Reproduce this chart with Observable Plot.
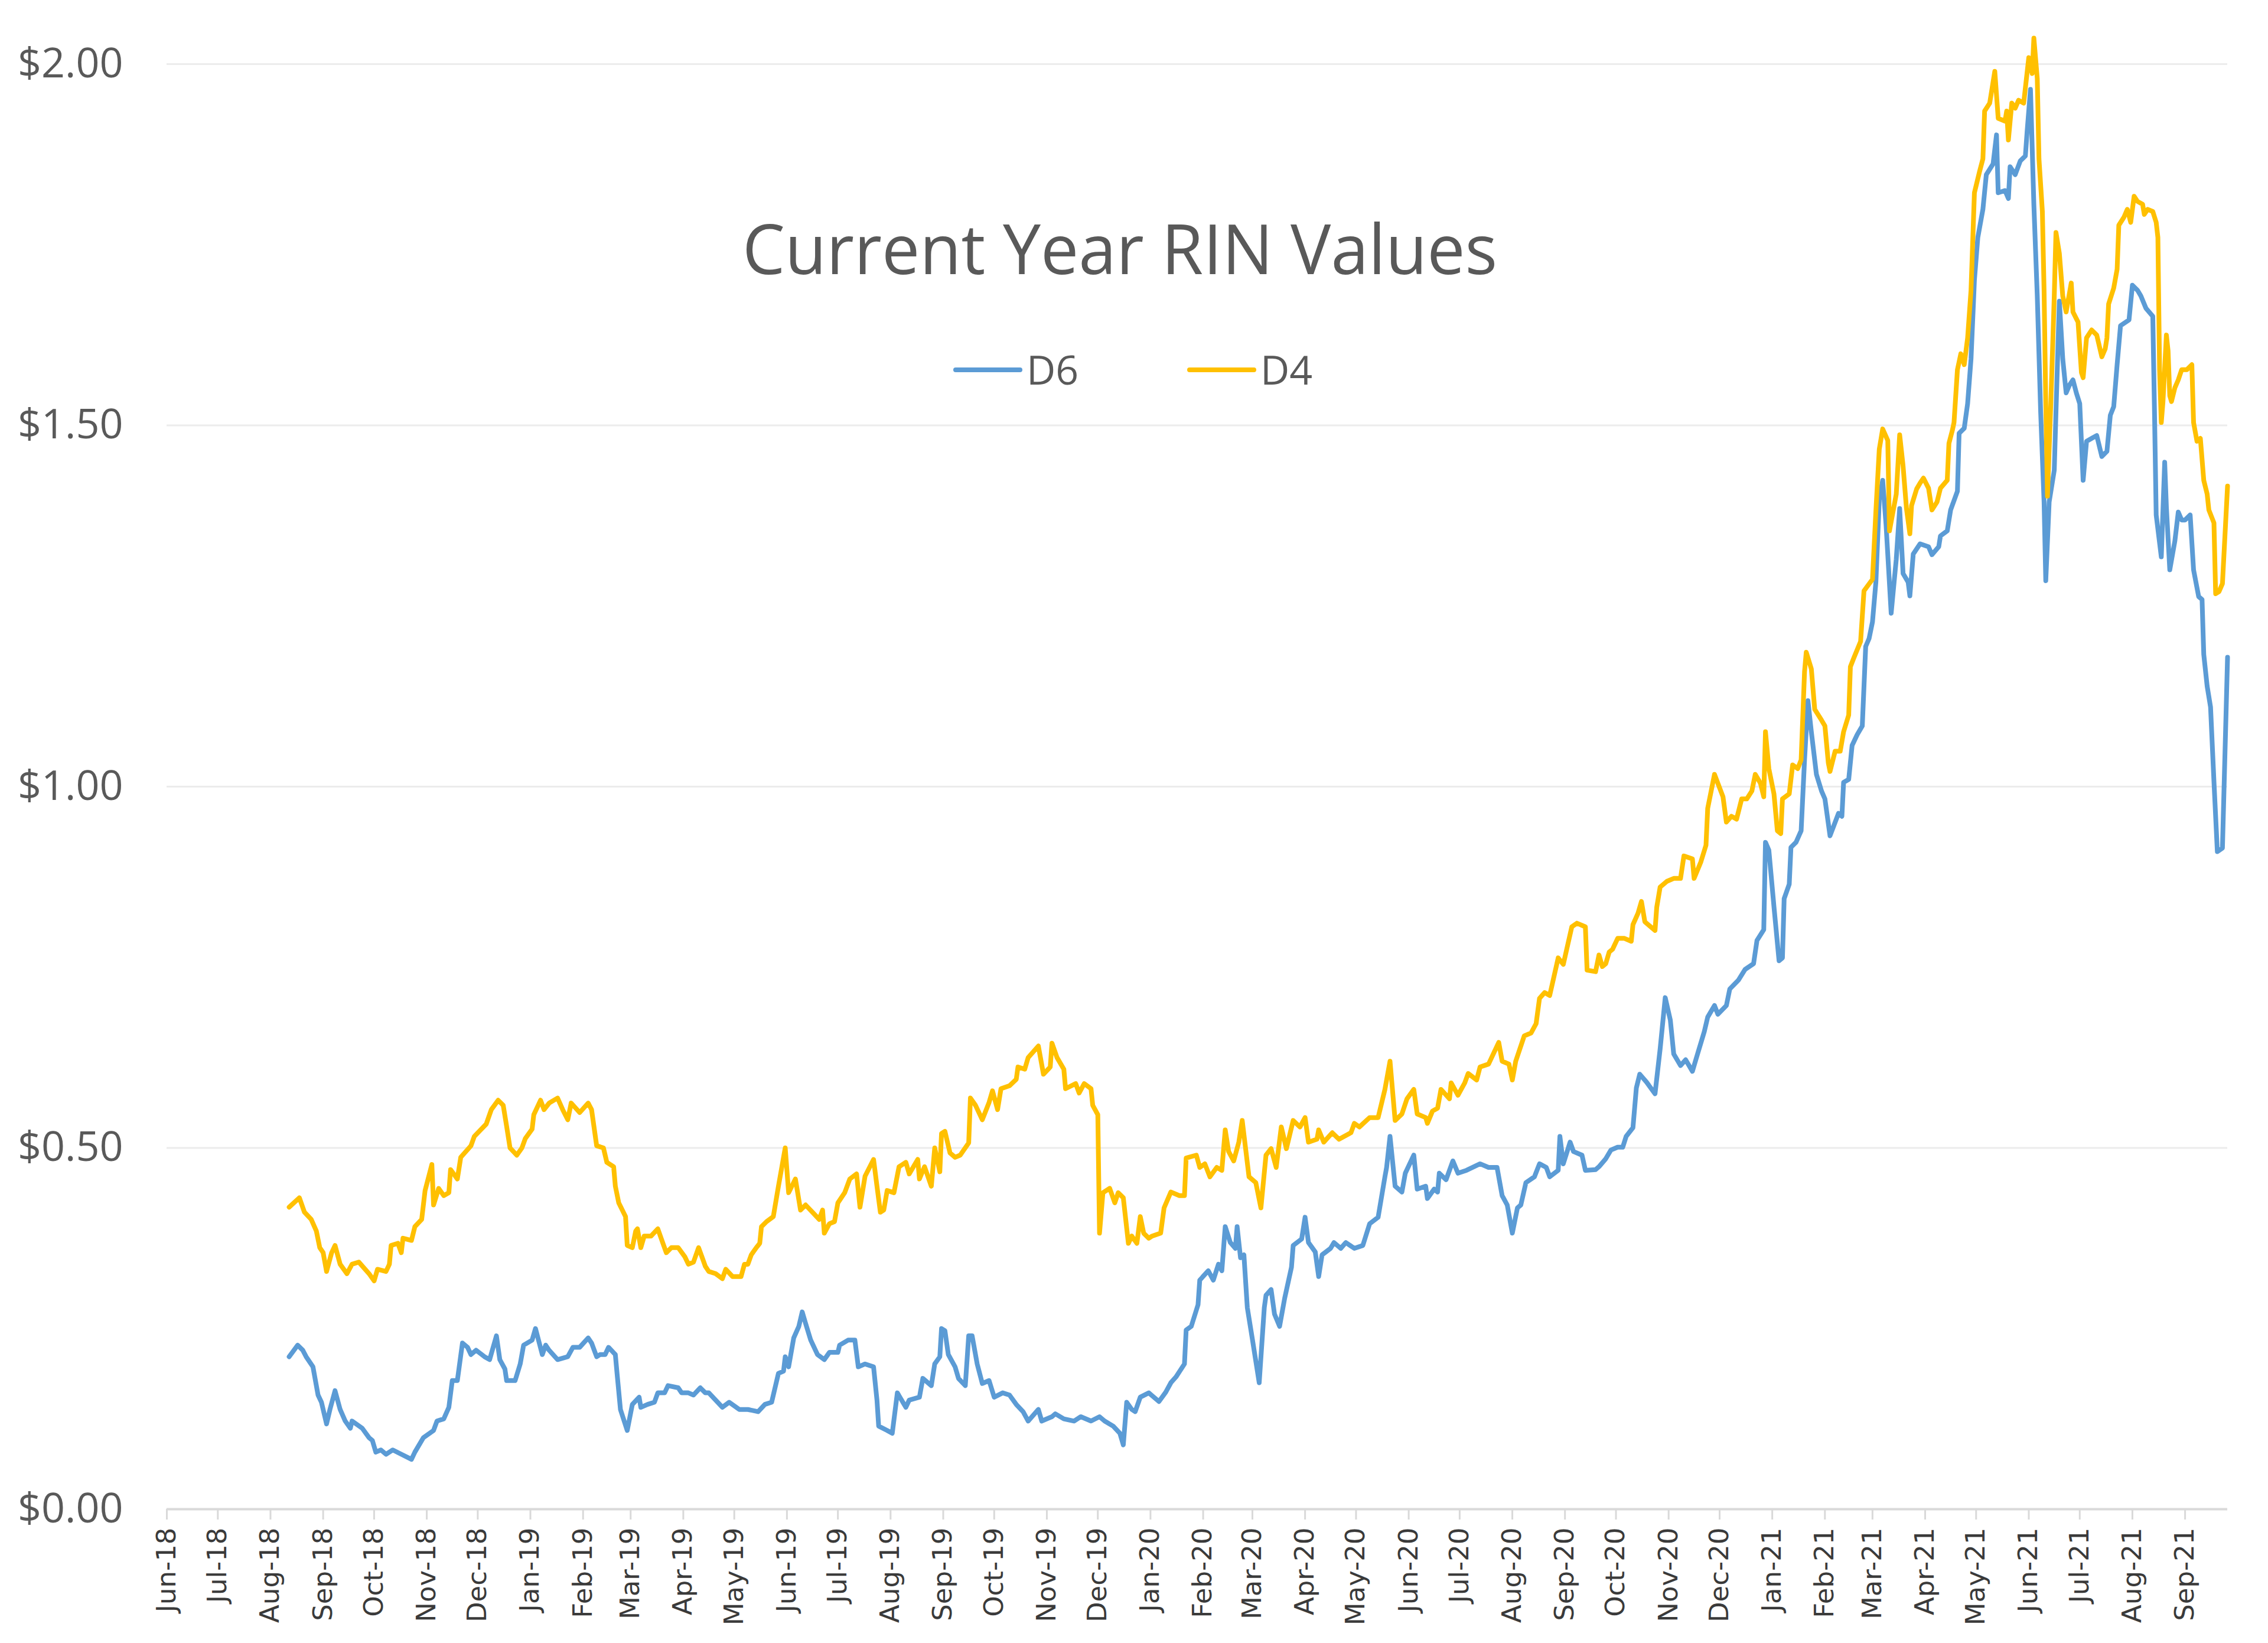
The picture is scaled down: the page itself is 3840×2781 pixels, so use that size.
<!DOCTYPE html>
<html>
<head>
<meta charset="utf-8">
<script src="https://cdn.jsdelivr.net/npm/d3@7"></script>
<script src="https://cdn.jsdelivr.net/npm/@observablehq/plot@0.6"></script>
<style>
  html, body { margin: 0; padding: 0; background: #ffffff; }
  #chart { width: 3840px; height: 2781px; }
</style>
</head>
<body>
<div id="chart"></div>
<script>
const chartTitle = "Current Year RIN Values";
const seriesNames = ["D6", "D4"];
const seriesColors = ["#5B9BD5", "#FFC000"];
const yTicks = [0, 0.5, 1, 1.5, 2];
const xDomain = ["2018-06-01", "2021-09-26"];

const d6Dates = ["2018-08-12","2018-08-17","2018-08-20","2018-08-22","2018-08-26","2018-08-29","2018-08-31","2018-09-03","2018-09-05","2018-09-08","2018-09-11","2018-09-14","2018-09-17","2018-09-18","2018-09-24","2018-09-28","2018-09-30","2018-10-02","2018-10-05","2018-10-08","2018-10-12","2018-10-17","2018-10-23","2018-10-25","2018-10-30","2018-11-05","2018-11-07","2018-11-11","2018-11-14","2018-11-16","2018-11-19","2018-11-22","2018-11-25","2018-11-27","2018-11-30","2018-12-05","2018-12-08","2018-12-12","2018-12-14","2018-12-17","2018-12-18","2018-12-23","2018-12-26","2018-12-28","2019-01-02","2019-01-04","2019-01-08","2019-01-10","2019-01-12","2019-01-17","2019-01-23","2019-01-26","2019-01-30","2019-02-04","2019-02-06","2019-02-09","2019-02-11","2019-02-14","2019-02-16","2019-02-20","2019-02-21","2019-02-23","2019-02-27","2019-03-02","2019-03-06","2019-03-07","2019-03-11","2019-03-15","2019-03-17","2019-03-21","2019-03-23","2019-03-29","2019-03-31","2019-04-04","2019-04-07","2019-04-11","2019-04-14","2019-04-16","2019-04-20","2019-04-24","2019-04-28","2019-05-04","2019-05-09","2019-05-15","2019-05-19","2019-05-23","2019-05-27","2019-05-30","2019-05-31","2019-06-02","2019-06-05","2019-06-08","2019-06-10","2019-06-12","2019-06-15","2019-06-19","2019-06-23","2019-06-26","2019-07-01","2019-07-02","2019-07-07","2019-07-11","2019-07-13","2019-07-17","2019-07-22","2019-07-24","2019-07-25","2019-07-30","2019-08-02","2019-08-05","2019-08-10","2019-08-12","2019-08-18","2019-08-20","2019-08-25","2019-08-27","2019-08-30","2019-08-31","2019-09-02","2019-09-04","2019-09-08","2019-09-10","2019-09-14","2019-09-16","2019-09-18","2019-09-21","2019-09-24","2019-09-28","2019-10-01","2019-10-06","2019-10-10","2019-10-14","2019-10-18","2019-10-21","2019-10-27","2019-10-29","2019-11-04","2019-11-06","2019-11-11","2019-11-17","2019-11-21","2019-11-27","2019-12-02","2019-12-05","2019-12-10","2019-12-14","2019-12-16","2019-12-18","2019-12-21","2019-12-23","2019-12-26","2019-12-31","2020-01-02","2020-01-06","2020-01-10","2020-01-13","2020-01-16","2020-01-21","2020-01-22","2020-01-25","2020-01-29","2020-01-30","2020-02-04","2020-02-07","2020-02-10","2020-02-12","2020-02-14","2020-02-17","2020-02-20","2020-02-21","2020-02-23","2020-02-25","2020-02-27","2020-03-01","2020-03-05","2020-03-08","2020-03-09","2020-03-12","2020-03-14","2020-03-17","2020-03-20","2020-03-24","2020-03-25","2020-03-30","2020-04-01","2020-04-03","2020-04-07","2020-04-09","2020-04-11","2020-04-16","2020-04-18","2020-04-22","2020-04-25","2020-04-30","2020-05-05","2020-05-09","2020-05-14","2020-05-18","2020-05-19","2020-05-21","2020-05-24","2020-05-28","2020-05-30","2020-06-04","2020-06-06","2020-06-11","2020-06-12","2020-06-16","2020-06-18","2020-06-19","2020-06-23","2020-06-27","2020-06-30","2020-07-05","2020-07-13","2020-07-18","2020-07-23","2020-07-26","2020-07-29","2020-08-01","2020-08-04","2020-08-06","2020-08-09","2020-08-14","2020-08-17","2020-08-21","2020-08-23","2020-08-28","2020-08-29","2020-08-31","2020-09-04","2020-09-06","2020-09-11","2020-09-13","2020-09-19","2020-09-21","2020-09-25","2020-09-28","2020-10-02","2020-10-05","2020-10-07","2020-10-11","2020-10-13","2020-10-15","2020-10-19","2020-10-24","2020-10-27","2020-10-30","2020-11-02","2020-11-04","2020-11-08","2020-11-11","2020-11-15","2020-11-17","2020-11-22","2020-11-24","2020-11-28","2020-11-30","2020-12-05","2020-12-07","2020-12-12","2020-12-16","2020-12-21","2020-12-23","2020-12-27","2020-12-28","2020-12-30","2021-01-02","2021-01-05","2021-01-07","2021-01-08","2021-01-11","2021-01-12","2021-01-15","2021-01-18","2021-01-20","2021-01-22","2021-01-24","2021-01-27","2021-01-30","2021-02-01","2021-02-04","2021-02-09","2021-02-11","2021-02-12","2021-02-15","2021-02-17","2021-02-20","2021-02-23","2021-02-25","2021-02-27","2021-03-01","2021-03-03","2021-03-05","2021-03-07","2021-03-09","2021-03-12","2021-03-15","2021-03-17","2021-03-19","2021-03-22","2021-03-23","2021-03-25","2021-03-29","2021-04-03","2021-04-05","2021-04-09","2021-04-10","2021-04-14","2021-04-16","2021-04-20","2021-04-21","2021-04-24","2021-04-26","2021-04-28","2021-04-30","2021-05-02","2021-05-05","2021-05-07","2021-05-11","2021-05-13","2021-05-14","2021-05-18","2021-05-20","2021-05-21","2021-05-24","2021-05-27","2021-05-30","2021-05-31","2021-06-02","2021-06-04","2021-06-06","2021-06-08","2021-06-10","2021-06-11","2021-06-13","2021-06-16","2021-06-17","2021-06-19","2021-06-21","2021-06-23","2021-06-25","2021-06-27","2021-06-29","2021-07-01","2021-07-03","2021-07-05","2021-07-08","2021-07-11","2021-07-14","2021-07-17","2021-07-19","2021-07-21","2021-07-23","2021-07-25","2021-07-30","2021-08-01","2021-08-04","2021-08-06","2021-08-09","2021-08-13","2021-08-14","2021-08-15","2021-08-18","2021-08-20","2021-08-21","2021-08-23","2021-08-26","2021-08-28","2021-08-30","2021-09-01","2021-09-04","2021-09-06","2021-09-09","2021-09-11","2021-09-12","2021-09-14","2021-09-16","2021-09-18","2021-09-20","2021-09-23","2021-09-26"];
const d6Values = [0.211,0.227,0.220,0.211,0.197,0.158,0.148,0.118,0.138,0.164,0.138,0.122,0.112,0.122,0.112,0.099,0.095,0.079,0.082,0.076,0.082,0.076,0.069,0.079,0.099,0.109,0.122,0.125,0.141,0.178,0.178,0.230,0.224,0.214,0.220,0.211,0.207,0.240,0.207,0.194,0.178,0.178,0.201,0.227,0.234,0.250,0.214,0.227,0.220,0.207,0.211,0.224,0.224,0.237,0.230,0.211,0.214,0.214,0.224,0.214,0.188,0.138,0.109,0.145,0.155,0.141,0.145,0.148,0.161,0.161,0.171,0.168,0.161,0.161,0.158,0.168,0.161,0.161,0.151,0.141,0.148,0.138,0.138,0.135,0.145,0.148,0.188,0.191,0.211,0.197,0.237,0.253,0.273,0.257,0.234,0.214,0.207,0.217,0.217,0.227,0.234,0.234,0.197,0.201,0.197,0.151,0.115,0.109,0.105,0.161,0.141,0.151,0.155,0.181,0.171,0.201,0.211,0.250,0.247,0.214,0.197,0.181,0.171,0.240,0.240,0.201,0.174,0.178,0.155,0.161,0.158,0.145,0.135,0.122,0.138,0.122,0.128,0.132,0.125,0.122,0.128,0.122,0.128,0.122,0.115,0.105,0.089,0.148,0.138,0.135,0.155,0.161,0.157,0.149,0.162,0.175,0.183,0.201,0.248,0.253,0.283,0.317,0.330,0.317,0.339,0.330,0.391,0.369,0.361,0.391,0.348,0.352,0.279,0.235,0.175,0.279,0.296,0.304,0.270,0.253,0.292,0.335,0.365,0.374,0.404,0.369,0.356,0.322,0.352,0.361,0.369,0.361,0.369,0.361,0.365,0.395,0.404,0.460,0.473,0.516,0.447,0.439,0.465,0.490,0.443,0.447,0.430,0.443,0.439,0.465,0.456,0.482,0.465,0.469,0.478,0.473,0.473,0.434,0.421,0.382,0.417,0.421,0.452,0.460,0.478,0.473,0.460,0.469,0.516,0.478,0.508,0.495,0.490,0.469,0.470,0.474,0.485,0.497,0.501,0.501,0.516,0.528,0.583,0.602,0.591,0.575,0.637,0.708,0.677,0.630,0.614,0.622,0.606,0.622,0.661,0.681,0.697,0.685,0.697,0.720,0.732,0.747,0.755,0.787,0.802,0.923,0.912,0.834,0.759,0.763,0.845,0.865,0.916,0.923,0.939,1.037,1.119,1.076,1.017,0.994,0.983,0.932,0.963,0.959,1.006,1.010,1.057,1.072,1.084,1.194,1.205,1.228,1.283,1.397,1.424,1.362,1.240,1.315,1.385,1.295,1.283,1.264,1.322,1.336,1.332,1.321,1.332,1.347,1.354,1.383,1.409,1.489,1.496,1.530,1.592,1.701,1.760,1.799,1.847,1.862,1.902,1.822,1.825,1.814,1.858,1.847,1.866,1.873,1.906,1.965,1.805,1.679,1.518,1.394,1.285,1.394,1.438,1.518,1.672,1.592,1.545,1.556,1.563,1.545,1.530,1.424,1.478,1.482,1.486,1.457,1.464,1.514,1.526,1.584,1.638,1.646,1.694,1.687,1.679,1.662,1.651,1.519,1.376,1.318,1.449,1.387,1.300,1.340,1.380,1.369,1.369,1.376,1.300,1.263,1.259,1.183,1.139,1.110,1.007,0.910,0.915,1.179];

const d4Dates = ["2018-08-12","2018-08-18","2018-08-21","2018-08-25","2018-08-28","2018-08-30","2018-09-01","2018-09-03","2018-09-06","2018-09-08","2018-09-11","2018-09-15","2018-09-18","2018-09-22","2018-09-28","2018-10-01","2018-10-03","2018-10-08","2018-10-10","2018-10-11","2018-10-15","2018-10-17","2018-10-18","2018-10-23","2018-10-25","2018-10-29","2018-10-31","2018-11-04","2018-11-05","2018-11-08","2018-11-11","2018-11-14","2018-11-15","2018-11-19","2018-11-21","2018-11-27","2018-11-29","2018-12-06","2018-12-09","2018-12-13","2018-12-16","2018-12-18","2018-12-20","2018-12-24","2018-12-27","2018-12-29","2019-01-02","2019-01-03","2019-01-07","2019-01-09","2019-01-12","2019-01-17","2019-01-20","2019-01-23","2019-01-25","2019-01-30","2019-02-04","2019-02-06","2019-02-09","2019-02-13","2019-02-15","2019-02-19","2019-02-20","2019-02-22","2019-02-26","2019-02-27","2019-03-02","2019-03-04","2019-03-05","2019-03-07","2019-03-09","2019-03-13","2019-03-17","2019-03-20","2019-03-22","2019-03-25","2019-03-29","2019-04-02","2019-04-04","2019-04-07","2019-04-10","2019-04-12","2019-04-14","2019-04-16","2019-04-20","2019-04-24","2019-04-26","2019-04-30","2019-05-05","2019-05-07","2019-05-09","2019-05-11","2019-05-14","2019-05-16","2019-05-17","2019-05-20","2019-05-24","2019-05-27","2019-05-31","2019-06-02","2019-06-06","2019-06-09","2019-06-12","2019-06-16","2019-06-20","2019-06-22","2019-06-23","2019-06-26","2019-06-29","2019-07-01","2019-07-05","2019-07-08","2019-07-12","2019-07-14","2019-07-17","2019-07-22","2019-07-24","2019-07-26","2019-07-28","2019-07-30","2019-08-03","2019-08-06","2019-08-10","2019-08-12","2019-08-17","2019-08-18","2019-08-21","2019-08-25","2019-08-27","2019-08-30","2019-08-31","2019-09-02","2019-09-05","2019-09-08","2019-09-11","2019-09-16","2019-09-17","2019-09-20","2019-09-24","2019-09-28","2019-09-30","2019-10-03","2019-10-05","2019-10-10","2019-10-14","2019-10-15","2019-10-19","2019-10-21","2019-10-27","2019-10-30","2019-11-03","2019-11-04","2019-11-07","2019-11-11","2019-11-12","2019-11-18","2019-11-20","2019-11-23","2019-11-27","2019-11-28","2019-12-01","2019-12-02","2019-12-04","2019-12-08","2019-12-11","2019-12-13","2019-12-16","2019-12-19","2019-12-21","2019-12-24","2019-12-26","2019-12-28","2019-12-31","2020-01-02","2020-01-07","2020-01-09","2020-01-13","2020-01-18","2020-01-21","2020-01-22","2020-01-28","2020-01-30","2020-02-02","2020-02-05","2020-02-09","2020-02-12","2020-02-14","2020-02-16","2020-02-19","2020-02-22","2020-02-24","2020-02-28","2020-03-03","2020-03-06","2020-03-09","2020-03-12","2020-03-15","2020-03-18","2020-03-21","2020-03-25","2020-03-29","2020-04-01","2020-04-03","2020-04-08","2020-04-09","2020-04-12","2020-04-17","2020-04-21","2020-04-28","2020-04-30","2020-05-03","2020-05-09","2020-05-14","2020-05-18","2020-05-21","2020-05-24","2020-05-28","2020-05-31","2020-06-04","2020-06-06","2020-06-11","2020-06-12","2020-06-15","2020-06-18","2020-06-20","2020-06-25","2020-06-26","2020-06-30","2020-07-04","2020-07-06","2020-07-11","2020-07-13","2020-07-18","2020-07-24","2020-07-26","2020-07-30","2020-08-01","2020-08-03","2020-08-08","2020-08-12","2020-08-15","2020-08-17","2020-08-20","2020-08-23","2020-08-28","2020-08-31","2020-09-05","2020-09-08","2020-09-13","2020-09-14","2020-09-19","2020-09-21","2020-09-23","2020-09-25","2020-09-27","2020-09-29","2020-10-02","2020-10-06","2020-10-10","2020-10-11","2020-10-14","2020-10-16","2020-10-18","2020-10-24","2020-10-25","2020-10-27","2020-10-31","2020-11-04","2020-11-08","2020-11-10","2020-11-15","2020-11-16","2020-11-20","2020-11-23","2020-11-24","2020-11-28","2020-12-03","2020-12-05","2020-12-08","2020-12-11","2020-12-14","2020-12-17","2020-12-20","2020-12-22","2020-12-25","2020-12-27","2020-12-28","2020-12-30","2021-01-02","2021-01-04","2021-01-06","2021-01-07","2021-01-11","2021-01-13","2021-01-16","2021-01-18","2021-01-20","2021-01-21","2021-01-24","2021-01-26","2021-01-30","2021-02-01","2021-02-03","2021-02-04","2021-02-07","2021-02-10","2021-02-12","2021-02-15","2021-02-16","2021-02-18","2021-02-22","2021-02-24","2021-03-01","2021-03-03","2021-03-05","2021-03-07","2021-03-10","2021-03-11","2021-03-15","2021-03-17","2021-03-19","2021-03-21","2021-03-23","2021-03-24","2021-03-27","2021-03-29","2021-03-31","2021-04-03","2021-04-05","2021-04-08","2021-04-10","2021-04-14","2021-04-15","2021-04-17","2021-04-18","2021-04-20","2021-04-22","2021-04-24","2021-04-26","2021-04-28","2021-04-30","2021-05-03","2021-05-05","2021-05-06","2021-05-09","2021-05-12","2021-05-14","2021-05-18","2021-05-19","2021-05-20","2021-05-22","2021-05-24","2021-05-26","2021-05-29","2021-06-01","2021-06-03","2021-06-04","2021-06-06","2021-06-07","2021-06-09","2021-06-10","2021-06-11","2021-06-12","2021-06-14","2021-06-16","2021-06-17","2021-06-19","2021-06-21","2021-06-23","2021-06-26","2021-06-27","2021-06-30","2021-07-02","2021-07-03","2021-07-05","2021-07-08","2021-07-11","2021-07-14","2021-07-16","2021-07-17","2021-07-18","2021-07-21","2021-07-23","2021-07-24","2021-07-27","2021-07-29","2021-07-31","2021-08-02","2021-08-04","2021-08-07","2021-08-08","2021-08-10","2021-08-13","2021-08-15","2021-08-16","2021-08-17","2021-08-18","2021-08-19","2021-08-21","2021-08-22","2021-08-23","2021-08-24","2021-08-26","2021-08-28","2021-08-30","2021-09-02","2021-09-05","2021-09-06","2021-09-08","2021-09-10","2021-09-12","2021-09-14","2021-09-15","2021-09-18","2021-09-19","2021-09-21","2021-09-23","2021-09-26"];
const d4Values = [0.418,0.431,0.411,0.401,0.385,0.362,0.355,0.329,0.355,0.365,0.339,0.326,0.339,0.342,0.326,0.316,0.332,0.329,0.339,0.365,0.368,0.355,0.375,0.372,0.391,0.401,0.441,0.477,0.421,0.444,0.434,0.438,0.470,0.457,0.487,0.503,0.516,0.533,0.553,0.566,0.559,0.530,0.500,0.490,0.500,0.513,0.526,0.546,0.566,0.553,0.562,0.569,0.553,0.539,0.562,0.549,0.562,0.553,0.503,0.500,0.480,0.474,0.447,0.424,0.405,0.365,0.362,0.385,0.388,0.362,0.378,0.378,0.388,0.368,0.355,0.362,0.362,0.349,0.339,0.342,0.362,0.349,0.336,0.329,0.326,0.319,0.332,0.322,0.322,0.339,0.339,0.352,0.362,0.368,0.391,0.398,0.405,0.447,0.500,0.438,0.457,0.414,0.421,0.411,0.401,0.414,0.382,0.395,0.398,0.424,0.438,0.457,0.464,0.418,0.461,0.484,0.447,0.411,0.414,0.441,0.438,0.474,0.480,0.464,0.484,0.457,0.474,0.447,0.500,0.467,0.520,0.523,0.493,0.487,0.490,0.507,0.569,0.559,0.539,0.563,0.579,0.553,0.582,0.586,0.595,0.612,0.609,0.625,0.641,0.602,0.612,0.645,0.625,0.609,0.582,0.589,0.576,0.589,0.582,0.559,0.546,0.382,0.438,0.444,0.424,0.438,0.431,0.368,0.378,0.368,0.405,0.382,0.375,0.378,0.382,0.417,0.439,0.434,0.434,0.486,0.490,0.473,0.478,0.460,0.473,0.469,0.525,0.495,0.482,0.508,0.538,0.460,0.452,0.417,0.490,0.499,0.473,0.529,0.499,0.538,0.529,0.542,0.508,0.512,0.525,0.508,0.521,0.512,0.521,0.534,0.529,0.542,0.542,0.581,0.620,0.538,0.547,0.568,0.581,0.547,0.542,0.534,0.551,0.555,0.581,0.568,0.590,0.573,0.590,0.603,0.594,0.612,0.616,0.646,0.620,0.616,0.594,0.620,0.655,0.659,0.672,0.707,0.715,0.711,0.763,0.754,0.806,0.811,0.806,0.746,0.744,0.767,0.751,0.755,0.771,0.775,0.790,0.790,0.786,0.809,0.825,0.841,0.813,0.801,0.833,0.861,0.869,0.873,0.873,0.904,0.900,0.873,0.896,0.919,0.970,1.017,0.986,0.951,0.959,0.955,0.983,0.983,0.994,1.017,1.005,0.986,1.076,1.025,0.990,0.939,0.935,0.983,0.990,1.030,1.025,1.037,1.159,1.186,1.163,1.107,1.092,1.084,1.033,1.021,1.049,1.049,1.076,1.099,1.166,1.178,1.201,1.271,1.287,1.381,1.467,1.495,1.479,1.354,1.405,1.487,1.444,1.385,1.350,1.389,1.412,1.420,1.427,1.413,1.383,1.394,1.413,1.424,1.475,1.493,1.504,1.577,1.599,1.584,1.621,1.687,1.822,1.851,1.869,1.935,1.946,1.990,1.925,1.921,1.935,1.895,1.946,1.939,1.950,1.946,2.009,1.987,2.036,1.980,1.869,1.796,1.687,1.533,1.402,1.533,1.679,1.767,1.738,1.679,1.657,1.697,1.657,1.643,1.573,1.566,1.621,1.632,1.625,1.595,1.606,1.621,1.668,1.690,1.716,1.777,1.788,1.799,1.781,1.817,1.810,1.806,1.792,1.799,1.796,1.781,1.760,1.577,1.504,1.533,1.625,1.603,1.541,1.533,1.552,1.563,1.577,1.577,1.584,1.504,1.478,1.482,1.424,1.405,1.383,1.365,1.267,1.270,1.281,1.416];

const parse = d3.utcParse("%Y-%m-%d");
const d6 = d6Dates.map((d, i) => ({date: parse(d), value: d6Values[i]}));
const d4 = d4Dates.map((d, i) => ({date: parse(d), value: d4Values[i]}));

const W = 3840, H = 2781;

const svg = Plot.plot({
  width: W,
  height: H,
  marginLeft: 282,
  marginRight: 69,
  marginTop: 108,
  marginBottom: 227,
  style: {background: "#ffffff", fontFamily: "'Open Sans', sans-serif"},
  x: {type: "utc", domain: xDomain.map(parse)},
  y: {domain: [0, 2]},
  marks: [
    Plot.ruleY(yTicks.filter(v => v > 0), {stroke: "#ececec", strokeWidth: 3}),
    Plot.ruleY([0], {stroke: "#d9d9d9", strokeWidth: 4}),
    Plot.axisY({
      ticks: yTicks,
      tickFormat: d3.format("$.2f"),
      tickSize: 0,
      tickPadding: 74,
      fontSize: 70,
      fontFamily: "'Open Sans', sans-serif",
      fill: "#595959",
      label: null
    }),
    Plot.axisX({
      ticks: d3.utcMonth.every(1),
      tickFormat: "%b-%y",
      tickRotate: -90,
      tickSize: 18,
      tickPadding: 13,
      strokeWidth: 3,
      stroke: "#d9d9d9",
      fill: "#3a3a3a",
      fontSize: 45,
      fontFamily: "'DejaVu Sans', sans-serif",
      label: null
    }),
    Plot.line(d6, {x: "date", y: "value", stroke: seriesColors[0], strokeWidth: 8, strokeLinejoin: "round", strokeLinecap: "round"}),
    Plot.line(d4, {x: "date", y: "value", stroke: seriesColors[1], strokeWidth: 8, strokeLinejoin: "round", strokeLinecap: "round"})
  ]
});

const s = d3.select(svg);
s.append("text")
  .attr("x", 1896).attr("y", 464)
  .attr("text-anchor", "middle")
  .attr("font-family", "'Open Sans', sans-serif")
  .attr("font-size", 118)
  .attr("fill", "#595959")
  .attr("textLength", 1278)
  .attr("lengthAdjust", "spacingAndGlyphs")
  .text(chartTitle);

const legendItems = [
  {name: seriesNames[0], color: seriesColors[0], x0: 1618, x1: 1727, tx: 1738},
  {name: seriesNames[1], color: seriesColors[1], x0: 2014, x1: 2123, tx: 2134}
];
const lg = s.append("g");
legendItems.forEach(it => {
  lg.append("line")
    .attr("x1", it.x0).attr("x2", it.x1).attr("y1", 626).attr("y2", 626)
    .attr("stroke", it.color).attr("stroke-width", 8).attr("stroke-linecap", "round");
  lg.append("text")
    .attr("x", it.tx).attr("y", 651)
    .attr("text-anchor", "start")
    .attr("font-family", "'Open Sans', sans-serif")
    .attr("font-size", 68)
    .attr("fill", "#595959")
    .text(it.name);
});

document.getElementById("chart").appendChild(svg);
</script>
</body>
</html>
